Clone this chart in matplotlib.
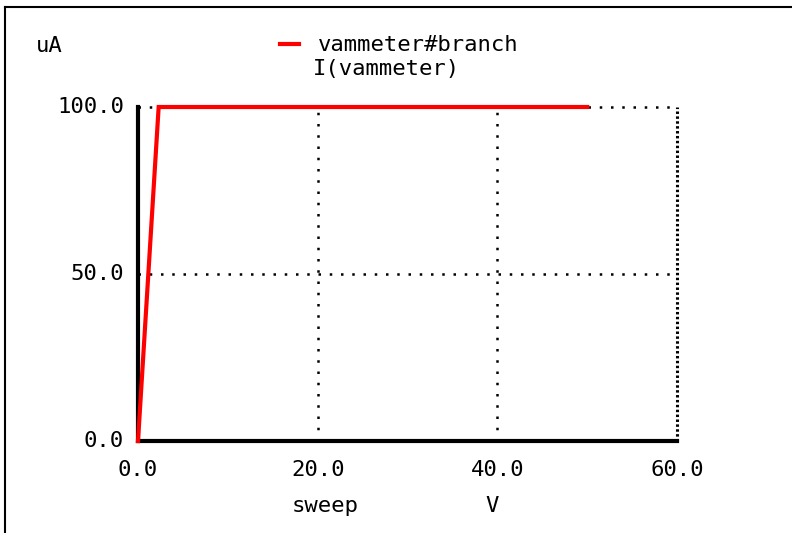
import numpy as np
import matplotlib.pyplot as plt
from matplotlib.lines import Line2D

# sweep (V) vs I(vammeter) (uA)
sweep = [0.0, 2.3, 50.0]
current = [0.0, 100.0, 100.0]

xticks = [0, 20, 40, 60]
yticks = [0, 50, 100]
xlabels = ["0.0", "20.0", "40.0", "60.0"]
ylabels = ["0.0", "50.0", "100.0"]

plt.rcParams['font.family'] = ['DejaVu Sans Mono', 'DejaVu Sans']
fs = 16

fig = plt.figure(figsize=(7.92, 5.33), dpi=100)
ax = fig.add_axes([138/792, 1-441/533, 539/792, 334/533])
ax.set_xlim(0, 60)
ax.set_ylim(0, 100)

# grid (dotted)
for xv in xticks[1:-1]:
	ax.plot([xv, xv], [0, 100], color='black', lw=1.8, ls=(0, (1, 3.5)), zorder=1, clip_on=False)
ax.plot([60, 60], [0, 100], color='black', lw=2.2, ls=(0, (0.8, 0.8)), zorder=1, clip_on=False)
for yv in yticks[1:]:
	ax.plot([0, 60], [yv, yv], color='black', lw=1.8, ls=(0, (1, 3.5)), zorder=1, clip_on=False)

ax.plot(sweep, current, color='red', lw=3, solid_joinstyle='miter', zorder=3, clip_on=False)

for s in ax.spines.values():
	s.set_visible(False)
ax.plot([0, 0], [0, 100], color='black', lw=3, zorder=2, clip_on=False)
ax.plot([0, 60], [0, 0], color='black', lw=3, zorder=2, clip_on=False)

ax.set_xticks([])
ax.set_yticks([])
for xv, lab in zip(xticks, xlabels):
	fig.text((138 + xv*539/60)/792, 1-470/533, lab, ha='center', va='center', fontsize=fs)
for yv, lab in zip(yticks, ylabels):
	fig.text(124/792, 1-(441 - yv*334/100)/533, lab, ha='right', va='center', fontsize=fs)

fig.text(325/792, 1-506/533, "sweep", ha='center', va='center', fontsize=fs)
fig.text(492/792, 1-506/533, "V", ha='center', va='center', fontsize=fs)
fig.text(36/792, 1-46/533, "uA", ha='left', va='center', fontsize=fs)
fig.add_artist(Line2D([280/792, 299/792], [1-44/533, 1-44/533], color='red', lw=3))
fig.text(318/792, 1-45/533, "vammeter#branch", ha='left', va='center', fontsize=fs)
fig.text(313/792, 1-69/533, "I(vammeter)", ha='left', va='center', fontsize=fs)

# window border
fig.add_artist(Line2D([5/792, 5/792], [0, 1-7/533], color='black', lw=1.5))
fig.add_artist(Line2D([5/792, 1], [1-7/533, 1-7/533], color='black', lw=1.5))

plt.savefig('out.png', dpi=100)
